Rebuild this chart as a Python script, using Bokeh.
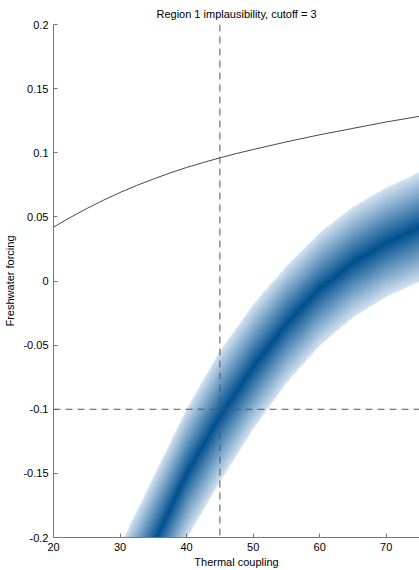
import numpy as np
from bokeh.plotting import figure
from bokeh.models import Span, FixedTicker, PrintfTickFormatter
from bokeh.embed import file_html
from bokeh.resources import INLINE

# ---- text ----
title_text = "Region 1 implausibility, cutoff = 3"
x_label = "Thermal coupling"
y_label = "Freshwater forcing"
x_ticks = [20, 30, 40, 50, 60, 70]
y_ticks = [-0.2, -0.15, -0.1, -0.05, 0, 0.05, 0.1, 0.15, 0.2]

# ---- black curve ----
curve_x = [20, 22.5, 25, 27.5, 30, 32.5, 35, 37.5, 40, 42.5, 45, 47.5, 50, 55, 60, 65, 70, 75]
curve_y = [0.042, 0.0495, 0.0565, 0.0630, 0.0690, 0.0745, 0.0795, 0.0842, 0.0885, 0.0924,
           0.0960, 0.0994, 0.1025, 0.1085, 0.1140, 0.1190, 0.1240, 0.1284]

# ---- implausibility band edges (implausibility = cutoff at these) ----
band_x = [20, 25, 30, 35, 40, 45, 50, 55, 60, 65, 70, 75]
band_top = [-0.312, -0.259, -0.206, -0.153, -0.100, -0.055, -0.019, 0.012, 0.038, 0.058, 0.073, 0.085]
band_bottom = [-0.417, -0.364, -0.311, -0.258, -0.201, -0.157, -0.116, -0.080, -0.051, -0.029, -0.013, -0.001]
cutoff = 3

# ---- reference point (dashed cross-hair) ----
ref_x = 45
ref_y = -0.1

x_min, x_max = 20, 75
y_min, y_max = -0.2, 0.2

# colours for implausibility 0 (dark) .. cutoff (light)
dark_rgb = np.array([0, 80, 143], dtype=float)
light_rgb = np.array([212, 228, 242], dtype=float)

# ---- build implausibility image ----
nx, ny = 366, 514
gx = np.linspace(x_min, x_max, nx)
gy = np.linspace(y_min, y_max, ny)
top = np.interp(gx, band_x, band_top)
bot = np.interp(gx, band_x, band_bottom)
mid = (top + bot) / 2.0
half = (top - bot) / 2.0
X, Y = np.meshgrid(gx, gy)
imp = cutoff * np.abs(Y - mid[None, :]) / half[None, :]
t = np.clip(imp / cutoff, 0, 1)[..., None]
rgb = dark_rgb + (light_rgb - dark_rgb) * t
rgba = np.zeros((ny, nx, 4), dtype=np.uint8)
rgba[..., :3] = np.round(rgb).astype(np.uint8)
rgba[..., 3] = np.where(imp <= cutoff, 255, 0).astype(np.uint8)
img = rgba.view(dtype=np.uint32).reshape((ny, nx))

p = figure(width=419, height=570, x_range=(x_min, x_max), y_range=(y_min, y_max),
           output_backend="svg", toolbar_location=None, title=title_text,
           min_border_left=53, min_border_right=0, min_border_top=24, min_border_bottom=32)
p.grid.visible = False
p.outline_line_color = None
p.background_fill_color = "white"
p.border_fill_color = "white"

p.title.text_font = "Liberation Sans"
p.title.text_font_size = "11px"
p.title.text_font_style = "normal"
p.title.align = "center"
p.title.text_color = "black"

p.image_rgba(image=[img], x=x_min, y=y_min, dw=x_max - x_min, dh=y_max - y_min)
p.line(curve_x, curve_y, line_color="#333333", line_width=0.9)

p.add_layout(Span(location=ref_x, dimension="height", line_color="#555555",
                  line_dash="7 5", line_width=1))
p.add_layout(Span(location=ref_y, dimension="width", line_color="#555555",
                  line_dash="7 5", line_width=1))

for ax, ticks, lab in ((p.xaxis[0], x_ticks, x_label), (p.yaxis[0], y_ticks, y_label)):
    ax.ticker = FixedTicker(ticks=ticks)
    ax.formatter = PrintfTickFormatter(format="%g")
    ax.axis_label = lab
    ax.major_tick_in = 4
    ax.major_tick_out = 0
    ax.minor_tick_in = 0
    ax.minor_tick_out = 0
    ax.axis_line_color = "#777777"
    ax.major_tick_line_color = "#777777"
    ax.major_label_text_font = "Liberation Sans"
    ax.major_label_text_font_size = "11px"
    ax.major_label_text_color = "black"
    ax.axis_label_text_font = "Liberation Sans"
    ax.axis_label_text_font_size = "11px"
    ax.axis_label_text_font_style = "normal"
    ax.axis_label_text_color = "black"
    ax.major_label_standoff = 5

p.xaxis[0].axis_label_standoff = 2
p.yaxis[0].axis_label_standoff = 4

open("out.html", "w").write(file_html(p, INLINE))
